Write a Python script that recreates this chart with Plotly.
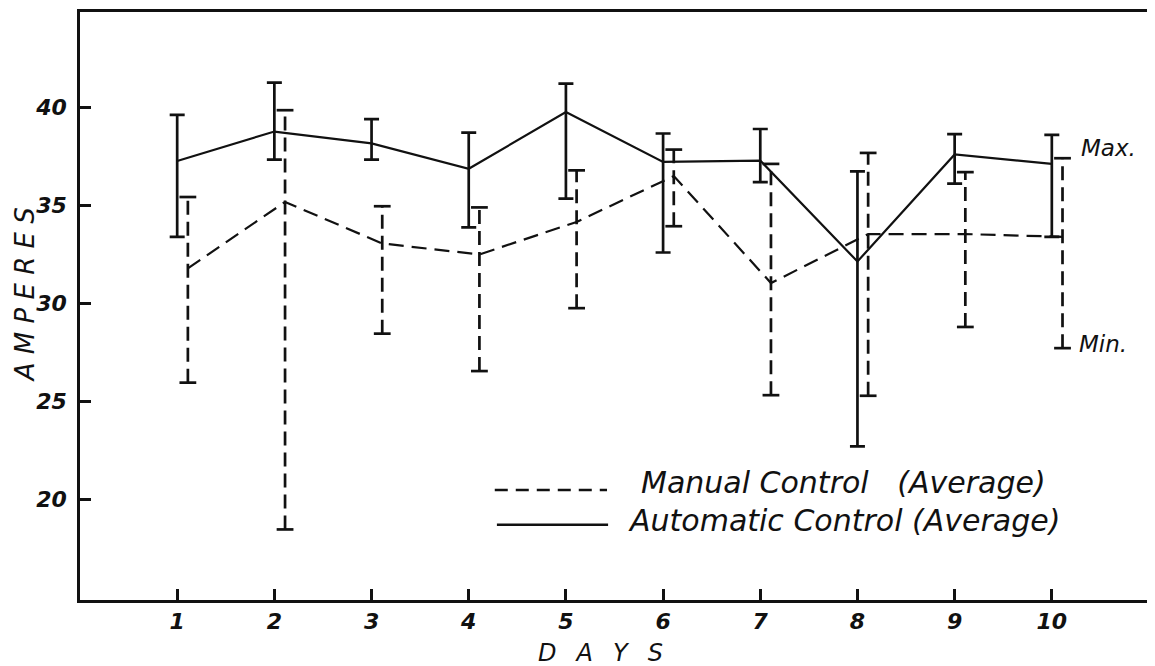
import plotly.graph_objects as go

days = [1, 2, 3, 4, 5, 6, 7, 8, 9, 10]
day_labels = ["1", "2", "3", "4", "5", "6", "7", "8", "9", "10"]

auto_avg = [37.25, 38.75, 38.15, 36.85, 39.75, 37.2, 37.27, 32.12, 37.58, 37.1]
auto_max = [39.6, 41.25, 39.38, 38.7, 41.2, 38.65, 38.88, 36.72, 38.62, 38.58]
auto_min = [33.38, 37.32, 37.32, 33.86, 35.33, 32.58, 36.17, 22.69, 36.09, 33.38]

manual_avg = [31.77, 35.16, 33.04, 32.48, 34.14, 36.48, 31.02, 33.52, 33.52, 33.38]
manual_max = [35.41, 39.84, 34.94, 34.88, 36.77, 37.83, 37.1, 37.66, 36.68, 37.39]
manual_min = [25.94, 18.45, 28.44, 26.53, 29.74, 33.92, 25.3, 25.27, 28.78, 27.7]

y_ticks = [20, 25, 30, 35, 40]
manual_offset = 0.11

FONT = "DejaVu Sans"
INK = "#111111"

manual_x = [d + manual_offset for d in days]

fig = go.Figure()

# Automatic control: solid line with solid min/max bars
fig.add_trace(go.Scatter(
    x=days, y=auto_avg, mode="lines",
    line=dict(color=INK, width=2.2),
    error_y=dict(
        type="data", symmetric=False,
        array=[mx - a for mx, a in zip(auto_max, auto_avg)],
        arrayminus=[a - mn for mn, a in zip(auto_min, auto_avg)],
        color=INK, thickness=2.7, width=7.5,
    ),
    showlegend=False, hoverinfo="skip",
))

# Manual control: dashed min/max bars
bar_x, bar_y = [], []
for x, lo, hi in zip(manual_x, manual_min, manual_max):
    bar_x += [x, x, None]
    bar_y += [lo, hi, None]
fig.add_trace(go.Scatter(
    x=bar_x, y=bar_y, mode="lines",
    line=dict(color=INK, width=2.7, dash="14px,7px"),
    showlegend=False, hoverinfo="skip",
))
fig.add_trace(go.Scatter(
    x=manual_x + manual_x, y=manual_min + manual_max, mode="markers",
    marker=dict(symbol="line-ew", size=12, line=dict(color=INK, width=2.7)),
    showlegend=False, hoverinfo="skip",
))
# Manual control average: dashed line
fig.add_trace(go.Scatter(
    x=manual_x, y=manual_avg, mode="lines",
    line=dict(color=INK, width=2.2, dash="15px,8px"),
    showlegend=False, hoverinfo="skip",
))

# Hand-drawn style legend
fig.add_shape(type="line", xref="paper", yref="paper",
              x0=0.388, x1=0.493, y0=0.187, y1=0.187,
              line=dict(color=INK, width=2.5, dash="13px,8px"))
fig.add_shape(type="line", xref="paper", yref="paper",
              x0=0.390, x1=0.494, y0=0.128, y1=0.128,
              line=dict(color=INK, width=2.5))

txt_font = dict(family=FONT, size=30, color=INK, style="italic")
fig.add_annotation(xref="paper", yref="paper", x=0.523, y=0.200,
                   text="Manual Control\u00a0\u00a0\u00a0(Average)",
                   showarrow=False, xanchor="left", yanchor="middle", font=txt_font)
fig.add_annotation(xref="paper", yref="paper", x=0.511, y=0.136,
                   text="Automatic Control (Average)",
                   showarrow=False, xanchor="left", yanchor="middle", font=txt_font)

side_font = dict(family=FONT, size=23, color=INK, style="italic")
fig.add_annotation(x=10.28, y=37.9, text="Max.", showarrow=False,
                   xanchor="left", yanchor="middle", font=side_font)
fig.add_annotation(x=10.26, y=27.9, text="Min.", showarrow=False,
                   xanchor="left", yanchor="middle", font=side_font)

# Axis titles
fig.add_annotation(xref="paper", yref="paper", x=-0.0515, y=0.52,
                   text="A\u00a0M\u00a0P\u00a0E\u00a0R\u00a0E\u00a0S", textangle=-90,
                   showarrow=False, xanchor="center", yanchor="middle",
                   font=dict(family=FONT, size=26, color=INK, style="italic"))
fig.add_annotation(xref="paper", yref="paper", x=0.487, y=-0.0906,
                   text="D\u00a0\u00a0\u2009A\u00a0\u00a0\u2009Y\u00a0\u00a0\u2009S", showarrow=False,
                   xanchor="center", yanchor="middle",
                   font=dict(family=FONT, size=24, color=INK, style="italic"))

tick_font = dict(family=FONT, size=22, color=INK, style="italic", weight="bold")
fig.update_xaxes(
    range=[0, 11], tickmode="array", tickvals=days, ticktext=day_labels,
    ticks="inside", ticklen=11, tickwidth=2.5, tickcolor=INK,
    showline=True, linecolor=INK, linewidth=2.6, mirror=True,
    showgrid=False, zeroline=False, tickfont=tick_font, ticklabelstandoff=0,
)
fig.update_yaxes(
    range=[14.85, 44.85], tickmode="array", tickvals=y_ticks,
    ticktext=[str(v) for v in y_ticks],
    ticks="inside", ticklen=11, tickwidth=2.5, tickcolor=INK,
    showline=True, linecolor=INK, linewidth=2.6, mirror=True,
    showgrid=False, zeroline=False, tickfont=tick_font, ticklabelstandoff=6,
)

fig.update_layout(
    width=1147, height=658,
    margin=dict(l=72, r=6, t=1, b=66),
    paper_bgcolor="white", plot_bgcolor="white",
    showlegend=False,
)

fig.write_html("out.html")
